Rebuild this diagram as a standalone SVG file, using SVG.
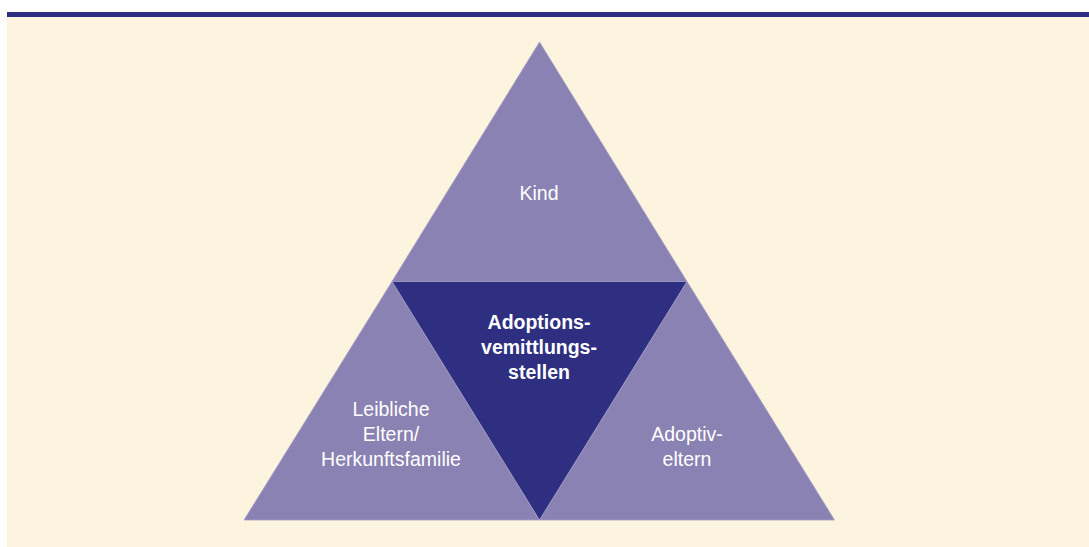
<svg xmlns="http://www.w3.org/2000/svg" width="1089" height="547" viewBox="0 0 1089 547">
<style>
.t{font-family:"Liberation Sans",Arial,sans-serif;font-size:19.5px;fill:#ffffff;text-anchor:middle}
.b{font-weight:bold;font-size:19.5px}
.outer{fill:#8a82b2;stroke:#a49ec6;stroke-width:0.8}
.inner{fill:#2e2f80;stroke:#a49ec6;stroke-width:0.8}
</style>
<rect x="0" y="0" width="1089" height="547" fill="#ffffff"/>
<rect x="7" y="17" width="1082" height="530" fill="#fdf4e0"/>
<rect x="7" y="12" width="1082" height="5" fill="#2e2f80"/>
<g id="kind">
<polygon class="outer" points="539.5,42 687,281.5 392,281.5"/>
<text class="t" x="539" y="200">Kind</text>
</g>
<g id="leibliche-eltern">
<polygon class="outer" points="392,281.5 539.5,520 244,520"/>
<text class="t" x="391" y="416">Leibliche</text>
<text class="t" x="391" y="441">Eltern/</text>
<text class="t" x="391" y="466">Herkunftsfamilie</text>
</g>
<g id="adoptiveltern">
<polygon class="outer" points="687,281.5 834.5,520 539.5,520"/>
<text class="t" x="687" y="441">Adoptiv-</text>
<text class="t" x="687" y="466">eltern</text>
</g>
<g id="adoptionsvermittlungsstellen">
<polygon class="inner" points="392,281.5 687,281.5 539.5,520"/>
<text class="t b" x="539" y="329">Adoptions-</text>
<text class="t b" x="539" y="354">vemittlungs-</text>
<text class="t b" x="539" y="379">stellen</text>
</g>
<g id="connectors"></g>
</svg>
